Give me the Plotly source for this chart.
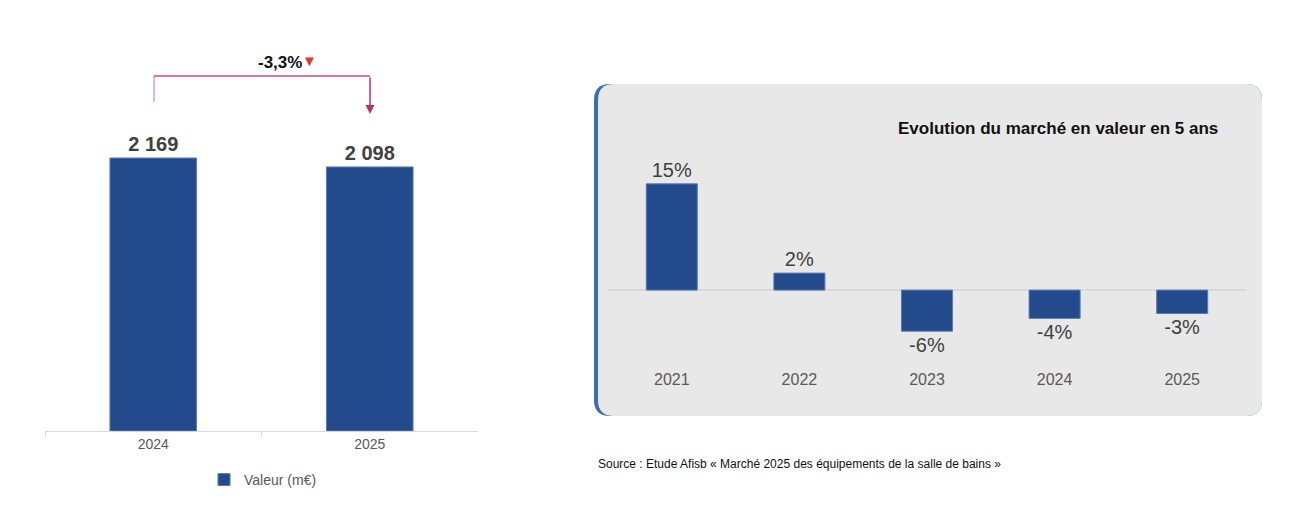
import plotly.graph_objects as go

years_left = ["2024", "2025"]
values_left = [2169, 2098]
labels_left = ["2 169", "2 098"]
change_text = "-3,3%"

years_right = ["2021", "2022", "2023", "2024", "2025"]
values_right = [15, 2.4, -5.8, -4.0, -3.3]
labels_right = ["15%", "2%", "-6%", "-4%", "-3%"]

W, H = 1300, 515
def px(x): return x / W
def py(y): return 1 - y / H

BLUE = "#234b8c"
fig = go.Figure()
fig.add_trace(go.Bar(x=years_left, y=values_left, text=labels_left, textposition="outside",
                     textfont=dict(size=20, color="#404040", family="Liberation Sans"),
                     texttemplate="<b>%{text}</b>", cliponaxis=False,
                     marker=dict(color=BLUE, line=dict(color="#5a7bb5", width=1)),
                     width=0.4, name="Valeur (m€)", xaxis="x", yaxis="y", showlegend=True))
fig.add_trace(go.Bar(x=years_right, y=values_right, text=labels_right, textposition="outside",
                     textfont=dict(size=20, color="#404040", family="Liberation Sans"),
                     cliponaxis=False,
                     marker=dict(color=BLUE, line=dict(color="#5a7bb5", width=1)),
                     width=0.4, xaxis="x2", yaxis="y2", showlegend=False))

def rrect(x0, y0, x1, y1, r):
    X0, X1 = px(x0), px(x1)
    Y0, Y1 = py(y0), py(y1)
    rx, ry = r / W, r / H
    return (f"M {X0+rx},{Y0} L {X1-rx},{Y0} Q {X1},{Y0} {X1},{Y0-ry} L {X1},{Y1+ry} "
            f"Q {X1},{Y1} {X1-rx},{Y1} L {X0+rx},{Y1} Q {X0},{Y1} {X0},{Y1+ry} "
            f"L {X0},{Y0-ry} Q {X0},{Y0} {X0+rx},{Y0} Z")

shapes = [
    dict(type="path", xref="paper", yref="paper", path=rrect(586, 76, 1254, 408, 16),
         fillcolor="#3a6fb5", line=dict(width=0), layer="below"),
    dict(type="path", xref="paper", yref="paper", path=rrect(590, 76, 1254, 408, 16),
         fillcolor="#e8e8e8", line=dict(width=0), layer="below"),
    dict(type="line", xref="x2 domain", yref="y2", x0=0, x1=1, y0=0, y1=0,
         line=dict(color="#d4d4d4", width=1.5), layer="below"),
    dict(type="line", xref="paper", yref="paper", x0=px(146), x1=px(146), y0=py(94), y1=py(68),
         line=dict(color="#e0a0bb", width=1.5)),
    dict(type="line", xref="paper", yref="paper", x0=px(146), x1=px(362), y0=py(68), y1=py(68),
         line=dict(color="#d04a82", width=1.5)),
]
annotations = [
    dict(xref="paper", yref="paper", x=px(362), y=py(106), ax=0, ay=-38,
         showarrow=True, arrowhead=2, arrowsize=1.2,
         arrowwidth=1.5, arrowcolor="#b83068", text=""),
    dict(xref="paper", yref="paper", x=px(248), y=py(43), text=f"<b>{change_text}</b>",
         showarrow=False, font=dict(size=17, color="#111", family="Liberation Sans")),
    dict(xref="paper", yref="paper", x=px(292), y=py(42), text="▼",
         showarrow=False, font=dict(size=15, color="#e8352a")),
    dict(xref="paper", yref="paper", x=px(1212), y=py(109), xanchor="right",
         text="<b>Evolution du marché en valeur en 5 ans</b>", showarrow=False,
         font=dict(size=17, color="#111", family="Liberation Sans")),
    dict(xref="paper", yref="paper", x=px(588), y=py(465), xanchor="left",
         text="Source : Etude Afisb « Marché 2025 des équipements de la salle de bains »",
         showarrow=False, font=dict(size=12, color="#111", family="Liberation Sans")),
]

fig.update_layout(
    width=W, height=H, margin=dict(l=0, r=0, t=0, b=0),
    paper_bgcolor="white", plot_bgcolor="rgba(0,0,0,0)",
    font=dict(family="Liberation Sans"),
    xaxis=dict(domain=[px(37), px(470)], showline=True, linecolor="#d9d9d9", ticks="outside",
               tickson="boundaries", tickcolor="#d9d9d9", ticklen=5,
               tickfont=dict(size=14, color="#595959"), showgrid=False),
    yaxis=dict(domain=[py(423), py(40)], range=[0, 3043], visible=False, showgrid=False),
    xaxis2=dict(domain=[px(600), px(1238)], showline=False, ticks="", anchor="y2",
                tickfont=dict(size=16, color="#595959"), showgrid=False),
    yaxis2=dict(domain=[py(360), py(110)], range=[-11, 24.3], visible=False, showgrid=False,
                zeroline=False, anchor="x2"),
    showlegend=True,
    legend=dict(orientation="h", x=px(255), y=py(472), xanchor="center", yanchor="middle",
                font=dict(size=14, color="#595959"), bgcolor="rgba(0,0,0,0)"),
    shapes=shapes, annotations=annotations, bargap=0.6,
)
fig.write_html("out.html")
